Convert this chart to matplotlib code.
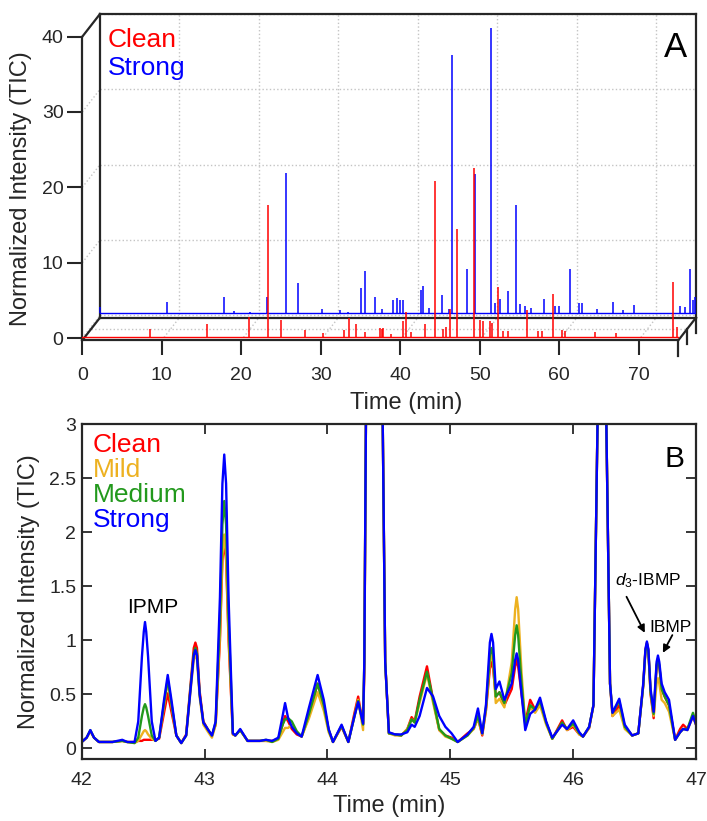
import matplotlib
matplotlib.use("Agg")
import matplotlib.pyplot as plt

plt.rcParams['font.family'] = ['Liberation Sans', 'DejaVu Sans']
plt.rcParams['mathtext.fontset'] = 'custom'
plt.rcParams['mathtext.rm'] = 'Liberation Sans'
plt.rcParams['mathtext.it'] = 'Liberation Sans:italic'

# ---- panel A: full chromatograms (peak apex times in min, heights in normalized TIC)
clean_base = 0.17
clean_t = [8.5, 15.7, 21.0, 23.4, 25.0, 28.0, 30.3, 32.9, 33.5, 34.5,
           35.6, 37.5, 37.7, 37.9, 38.9, 40.4, 40.7, 41.4, 43.1, 44.37,
           45.4, 45.8, 46.25, 47.17, 49.27, 50.0, 50.45, 51.35, 51.6, 52.25,
           53.0, 53.6, 56.0, 57.4, 57.8, 59.2, 60.4, 60.7, 64.5, 67.2,
           74.3, 74.8]
clean_h = [1.15, 1.85, 2.8, 17.7, 2.4, 1.05, 0.7, 1.05, 2.6, 1.8,
           0.8, 1.3, 1.2, 1.3, 0.6, 2.3, 3.5, 0.8, 1.9, 20.9,
           1.2, 1.5, 3.9, 14.5, 22.6, 2.4, 2.2, 2.2, 2.0, 6.8,
           1.0, 1.0, 3.7, 0.9, 0.9, 5.8, 1.05, 1.0, 0.85, 0.65,
           7.45, 1.5]

strong_base = 0.27
strong_t = [0.05, 8.5, 15.6, 16.9, 18.9, 21.0, 23.35, 24.9, 27.9, 30.2,
            31.2, 32.9, 33.4, 34.55, 35.5, 36.9, 37.4, 37.8, 38.1, 40.45,
            40.65, 41.4, 43.1, 43.9, 44.36, 46.2, 47.17, 49.27, 49.7, 50.35,
            51.4, 52.3, 52.8, 53.5, 54.3, 55.9, 57.3, 57.8, 59.1, 60.3,
            60.7, 62.6, 64.55, 65.8, 67.2, 73.0, 73.6, 74.3, 74.6, 74.9]
strong_h = [1.1, 1.8, 2.5, 0.65, 0.5, 2.5, 18.9, 4.3, 0.9, 0.7,
            0.5, 3.6, 5.9, 2.5, 0.9, 2.0, 2.3, 2.0, 2.0, 3.4,
            3.9, 1.0, 2.7, 0.9, 34.6, 6.1, 18.8, 38.1, 1.6, 2.2,
            3.3, 14.7, 1.5, 1.2, 1.0, 2.2, 1.3, 1.3, 6.2, 1.6,
            1.6, 0.8, 1.8, 0.7, 1.4, 1.3, 1.1, 6.2, 2.1, 2.4]

# ---- panel B: 42-47 min detail, traced vertices
t_b = [42.00, 42.04, 42.07, 42.10, 42.14, 42.25, 42.33, 42.37, 42.43, 42.46,
       42.49, 42.505, 42.515, 42.525, 42.54, 42.57, 42.60, 42.63, 42.67, 42.70, 42.73, 42.77,
       42.81, 42.85, 42.89, 42.912, 42.925, 42.938, 42.96, 42.99, 43.03, 43.06, 43.09, 43.125,
       43.145, 43.16, 43.175, 43.195, 43.23, 43.25, 43.29, 43.35, 43.45, 43.50, 43.55, 43.60,
       43.635, 43.655, 43.68, 43.71, 43.75, 43.79, 43.85, 43.92, 43.97, 44.01,
       44.045, 44.115, 44.17, 44.22, 44.25, 44.29, 44.30, 44.313, 44.38, 44.45,
       44.47, 44.50, 44.55, 44.60, 44.65, 44.685, 44.71, 44.75, 44.81, 44.86,
       44.91, 44.96, 45.01, 45.06, 45.14, 45.19, 45.225, 45.26, 45.29, 45.322, 45.335, 45.348,
       45.37, 45.40, 45.44, 45.50, 45.528, 45.54, 45.552, 45.58, 45.61, 45.65, 45.69, 45.73,
       45.78, 45.83, 45.91, 45.95, 46.00, 46.05, 46.08, 46.13, 46.165, 46.198,
       46.235, 46.27, 46.30, 46.32, 46.375, 46.42, 46.48, 46.53, 46.57, 46.588, 46.60, 46.612,
       46.63, 46.655, 46.679, 46.69, 46.701, 46.72, 46.745, 46.78, 46.83, 46.87, 46.895, 46.93,
       46.975, 47.00]
strong_b = [.06, .10, .17, .10, .06, .06, .08, .06, .06, .25,
            .85, 1.08, 1.17, 1.08, .85, .25, .07, .10, .45, .68, .45, .12,
            .05, .12, .60, .86, .91, .86, .50, .24, .17, .12, .25, 1.40,
            2.45, 2.72, 2.45, 1.40, .14, .12, .18, .07, .07, .08, .07, .10,
            .30, .42, .28, .20, .14, .11, .38, .68, .45, .18,
            .06, .22, .06, .30, .43, .23, .80, 3.0, 37.0, 3.0,
            .80, .15, .13, .13, .15, .22, .20, .30, .56, .48,
            .30, .20, .14, .06, .13, .20, .37, .14, .40, .98, 1.06, .98,
            .55, .62, .45, .60, .82, .88, .82, .50, .17, .32, .36, .47,
            .25, .10, .22, .18, .26, .15, .11, .20, .40, 3.0,
            6.1, 3.0, .60, .33, .46, .22, .12, .14, .60, .92, .99, .92,
            .55, .34, .80, .86, .80, .60, .52, .45, .08, .15, .18, .17,
            .30, .22]
medium_b = [.06, .10, .17, .10, .06, .06, .07, .06, .05, .10,
            .30, .38, .41, .38, .30, .12, .07, .10, .42, .64, .42, .12,
            .05, .12, .62, .88, .93, .88, .50, .24, .17, .12, .24, 1.20,
            2.07, 2.29, 2.07, 1.20, .14, .12, .17, .07, .07, .08, .06, .09,
            .22, .27, .28, .25, .16, .11, .32, .60, .40, .17,
            .06, .21, .06, .30, .44, .22, .80, 3.0, 30.0, 3.0,
            .80, .14, .13, .12, .17, .27, .24, .45, .71, .45,
            .18, .12, .09, .06, .12, .19, .30, .14, .38, .86, .93, .86,
            .48, .52, .42, .70, 1.05, 1.14, 1.05, .60, .22, .40, .36, .44,
            .24, .09, .24, .18, .23, .14, .11, .20, .40, 3.0,
            5.2, 3.0, .60, .33, .44, .20, .12, .14, .58, .90, .97, .90,
            .52, .32, .77, .83, .77, .55, .48, .40, .08, .15, .18, .18,
            .33, .24]
mild_b = [.06, .10, .16, .10, .06, .06, .07, .06, .05, .07,
          .13, .16, .17, .16, .13, .09, .07, .10, .40, .62, .40, .12,
          .05, .12, .58, .82, .87, .82, .47, .22, .15, .10, .22, 1.05,
          1.79, 1.98, 1.79, 1.05, .13, .12, .17, .07, .07, .07, .06, .08,
          .15, .19, .19, .22, .15, .11, .28, .52, .35, .15,
          .06, .21, .06, .30, .45, .17, .80, 3.0, 25.0, 3.0,
          .80, .14, .12, .12, .18, .27, .24, .42, .69, .42,
          .17, .11, .09, .06, .12, .18, .28, .13, .36, .80, .86, .80,
          .42, .46, .38, .80, 1.29, 1.40, 1.29, .70, .22, .38, .33, .40,
          .22, .09, .23, .17, .22, .13, .11, .19, .40, 3.0,
          4.8, 3.0, .60, .30, .36, .18, .12, .14, .58, .90, .97, .90,
          .52, .30, .60, .65, .60, .45, .42, .34, .08, .15, .18, .17,
          .30, .22]
clean_b = [.06, .10, .16, .10, .06, .06, .07, .06, .06, .07,
           .07, .08, .08, .08, .08, .08, .08, .09, .33, .51, .34, .12,
           .05, .13, .65, .93, .98, .93, .53, .25, .17, .12, .22, 1.00,
           1.74, 1.92, 1.74, 1.00, .13, .12, .17, .07, .07, .07, .07, .09,
           .22, .30, .25, .18, .13, .11, .30, .60, .40, .17,
           .06, .20, .06, .33, .48, .22, .70, 3.0, 21.0, 3.0,
           .80, .14, .13, .12, .18, .29, .25, .48, .76, .45,
           .17, .12, .10, .06, .14, .18, .28, .12, .35, .74, .80, .74,
           .48, .52, .40, .55, .76, .82, .76, .50, .24, .45, .36, .42,
           .24, .09, .26, .17, .20, .13, .11, .19, .40, 3.0,
           3.9, 3.0, .60, .30, .40, .20, .12, .14, .58, .91, .98, .91,
           .50, .28, .76, .82, .76, .55, .48, .40, .08, .18, .22, .18,
           .30, .22]

RED = '#ff0000'
BLUE = '#0000ff'
ORANGE = '#edb120'
GREEN = '#22991c'
INK = '#262626'
GRID = '#c4c4c4'

fig = plt.figure(figsize=(7.07, 8.21), dpi=100)

# ================= panel A (pseudo 3-D waterfall) =================
T_END = 75.0          # front time axis end
Z_LO, Z_HI = -0.3, 40.0
DX, DY = 2.22, 3.0    # depth offset of the back plane (min, intensity)

axA = fig.add_axes([0.1164, 0.5855, 0.868, 0.3974])
axA.set_xlim(0, T_END + DX)
axA.set_ylim(Z_LO, Z_HI + DY)
for s in axA.spines.values():
    s.set_visible(False)

grid_kw = dict(color=GRID, ls=':', lw=1.0, zorder=0)
for x in range(10, 80, 10):
    if x + DX < T_END + DX:
        axA.plot([x + DX, x + DX], [Z_LO + DY, Z_HI + DY], **grid_kw)
    axA.plot([x, x + DX], [Z_LO, Z_LO + DY], **grid_kw)
for z in range(0, 50, 10):
    axA.plot([DX, T_END + DX], [z + DY, z + DY], **grid_kw)
    axA.plot([0, DX], [z, z + DY], **grid_kw)
axA.plot([DX / 2, T_END + DX / 2], [Z_LO + DY / 2] * 2, **grid_kw)

box_kw = dict(color=INK, lw=1.6, zorder=1, clip_on=False, solid_capstyle='projecting')
box_lines = [
    ([0, 0], [Z_LO, Z_HI]),
    ([0, DX], [Z_HI, Z_HI + DY]),
    ([DX, T_END + DX], [Z_HI + DY, Z_HI + DY]),
    ([DX, DX], [Z_LO + DY, Z_HI + DY]),
    ([T_END + DX, T_END + DX], [Z_LO + DY, Z_HI + DY]),
    ([0, T_END], [Z_LO, Z_LO]),
    ([DX, T_END + DX], [Z_LO + DY, Z_LO + DY]),
    ([0, DX], [Z_LO, Z_LO + DY]),
    ([T_END, T_END + DX], [Z_LO, Z_LO + DY]),
]
for xs, ys in box_lines:
    axA.plot(xs, ys, **box_kw)
tick_drop = 2.05
for k in (0, 0.5, 1.0):
    x0 = T_END + k * DX
    y0 = Z_LO + k * DY
    axA.plot([x0, x0], [y0, y0 - tick_drop], **box_kw)

# back trace (Strong)
axA.plot([DX, T_END + DX], [strong_base + DY] * 2, color=BLUE, lw=1.0, zorder=2)
axA.vlines([t + DX for t in strong_t], strong_base + DY,
           [h + DY for h in strong_h], color=BLUE, lw=1.1, zorder=2)
# front trace (Clean)
axA.plot([0, T_END], [clean_base] * 2, color=RED, lw=1.0, zorder=3)
axA.vlines(clean_t, clean_base, clean_h, color=RED, lw=1.1, zorder=3)

axA.set_xticks(range(0, 80, 10))
axA.set_yticks(range(0, 50, 10))
axA.tick_params(axis='both', direction='out', length=11, width=1.5,
                color=INK, labelcolor=INK, labelsize=14)
axA.tick_params(axis='x', pad=8)
axA.tick_params(axis='y', pad=2.5)
axA.set_xlabel('Time (min)', fontsize=17, color=INK, va='top')
axA.xaxis.set_label_coords(0.528, -0.1575)
axA.set_ylabel('Normalized Intensity (TIC)', fontsize=17, color=INK)
axA.yaxis.set_label_coords(-0.082, 0.465)

axA.text(0.0419, 0.899, 'Clean', color=RED, fontsize=19, transform=axA.transAxes, va='baseline')
axA.text(0.0419, 0.813, 'Strong', color=BLUE, fontsize=19, transform=axA.transAxes, va='baseline')
axA.text(0.985, 0.868, 'A', color='k', fontsize=25, transform=axA.transAxes,
         ha='right', va='baseline')

# ================= panel B =================
axB = fig.add_axes([0.1156, 0.0752, 0.8689, 0.408])
for vals, col in ((clean_b, RED), (mild_b, ORANGE), (medium_b, GREEN), (strong_b, BLUE)):
    axB.plot(t_b, vals, color=col, lw=1.7, solid_joinstyle='round')
axB.set_xlim(42, 47)
axB.set_ylim(-0.1, 3)
axB.set_xticks([42, 43, 44, 45, 46, 47])
axB.set_yticks([0, 0.5, 1, 1.5, 2, 2.5, 3])
axB.set_yticklabels(['0', '0.5', '1', '1.5', '2', '2.5', '3'])
axB.tick_params(axis='both', direction='in', length=7, width=1.3, top=True, right=True,
                color=INK, labelcolor=INK, labelsize=14)
axB.tick_params(axis='x', pad=9)
axB.tick_params(axis='y', pad=4)
for s in axB.spines.values():
    s.set_linewidth(1.6)
    s.set_color(INK)
axB.set_xlabel('Time (min)', fontsize=17, color=INK, va='top')
axB.xaxis.set_label_coords(0.5, -0.1066)
axB.set_ylabel('Normalized Intensity (TIC)', fontsize=17, color=INK)
axB.yaxis.set_label_coords(-0.068, 0.501)

for i, (name, col) in enumerate((('Clean', RED), ('Mild', ORANGE),
                                 ('Medium', GREEN), ('Strong', BLUE))):
    axB.text(0.018, 0.918 - i * 0.0746, name, color=col, fontsize=19,
             transform=axB.transAxes, va='baseline')
axB.text(0.982, 0.873, 'B', color='k', fontsize=21.5, transform=axB.transAxes,
         ha='right', va='baseline')

axB.text(42.369, 1.25, 'IPMP', fontsize=15, va='baseline')
axB.text(46.339, 1.512, r'$\it{d}_3$-IBMP', fontsize=12.5, va='baseline')
axB.text(46.624, 1.08, 'IBMP', fontsize=12.5, va='baseline')
arrow_kw = dict(arrowstyle='-|>', color='k', lw=1.3, mutation_scale=11,
                shrinkA=0, shrinkB=0)
axB.annotate('', xy=(46.583, 1.07), xytext=(46.434, 1.404), arrowprops=arrow_kw)
axB.annotate('', xy=(46.73, 0.885), xytext=(46.807, 1.049), arrowprops=arrow_kw)

fig.savefig('out.png', dpi=100)
